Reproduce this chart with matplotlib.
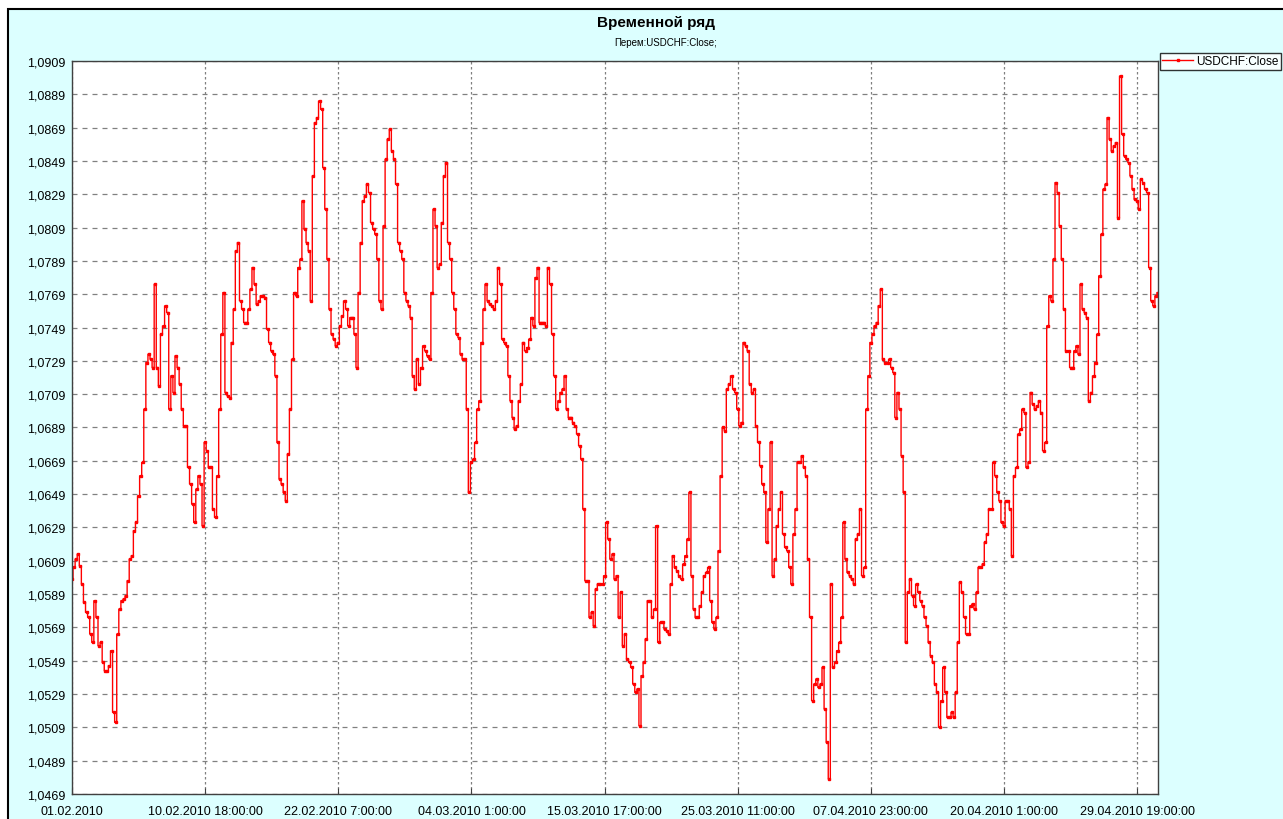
import numpy as np
import matplotlib
matplotlib.use("Agg")
import matplotlib.pyplot as plt
from matplotlib.patches import Rectangle

BG = "#DCFFFF"
LINE_RED = "#FF0000"

# USDCHF close at even steps (64 readings per tick interval)
close = [
    1.0598, 1.0605, 1.0610, 1.0613, 1.0606, 1.0595, 1.0584, 1.0578, 1.0575, 1.0565,
    1.0560, 1.0585, 1.0575, 1.0558, 1.0560, 1.0548, 1.0543, 1.0543, 1.0546, 1.0555,
    1.0518, 1.0512, 1.0565, 1.0580, 1.0585, 1.0586, 1.0588, 1.0597, 1.0610, 1.0612,
    1.0627, 1.0632, 1.0648, 1.0660, 1.0668, 1.0700, 1.0728, 1.0733, 1.0730, 1.0725,
    1.0775, 1.0725, 1.0714, 1.0745, 1.0750, 1.0762, 1.0758, 1.0700, 1.0720, 1.0710,
    1.0732, 1.0725, 1.0715, 1.0700, 1.0690, 1.0690, 1.0665, 1.0655, 1.0643, 1.0632,
    1.0652, 1.0660, 1.0655, 1.0630, 1.0680, 1.0675, 1.0665, 1.0665, 1.0640, 1.0635,
    1.0660, 1.0700, 1.0745, 1.0770, 1.0710, 1.0708, 1.0707, 1.0740, 1.0760, 1.0795,
    1.0800, 1.0765, 1.0760, 1.0752, 1.0752, 1.0760, 1.0772, 1.0785, 1.0775, 1.0763,
    1.0765, 1.0768, 1.0768, 1.0767, 1.0748, 1.0740, 1.0735, 1.0733, 1.0720, 1.0680,
    1.0658, 1.0655, 1.0650, 1.0645, 1.0673, 1.0700, 1.0730, 1.0770, 1.0768, 1.0785,
    1.0790, 1.0825, 1.0808, 1.0800, 1.0795, 1.0765, 1.0840, 1.0872, 1.0875, 1.0885,
    1.0880, 1.0845, 1.0820, 1.0790, 1.0760, 1.0745, 1.0742, 1.0738, 1.0740, 1.0750,
    1.0756, 1.0765, 1.0760, 1.0750, 1.0755, 1.0755, 1.0745, 1.0725, 1.0770, 1.0800,
    1.0825, 1.0828, 1.0835, 1.0830, 1.0812, 1.0808, 1.0805, 1.0790, 1.0765, 1.0760,
    1.0810, 1.0850, 1.0862, 1.0868, 1.0855, 1.0850, 1.0835, 1.0800, 1.0795, 1.0790,
    1.0770, 1.0765, 1.0762, 1.0755, 1.0720, 1.0712, 1.0730, 1.0715, 1.0725, 1.0738,
    1.0735, 1.0732, 1.0730, 1.0770, 1.0820, 1.0810, 1.0785, 1.0787, 1.0812, 1.0840,
    1.0848, 1.0800, 1.0790, 1.0770, 1.0760, 1.0745, 1.0743, 1.0733, 1.0730, 1.0730,
    1.0700, 1.0650, 1.0668, 1.0670, 1.0680, 1.0700, 1.0705, 1.0740, 1.0760, 1.0775,
    1.0765, 1.0763, 1.0762, 1.0760, 1.0765, 1.0785, 1.0775, 1.0742, 1.0740, 1.0738,
    1.0720, 1.0705, 1.0695, 1.0688, 1.0690, 1.0705, 1.0715, 1.0740, 1.0735, 1.0737,
    1.0742, 1.0755, 1.0750, 1.0779, 1.0785, 1.0752, 1.0752, 1.0752, 1.0750, 1.0785,
    1.0775, 1.0745, 1.0720, 1.0700, 1.0705, 1.0710, 1.0712, 1.0720, 1.0700, 1.0695,
    1.0695, 1.0692, 1.0690, 1.0685, 1.0678, 1.0670, 1.0640, 1.0597, 1.0597, 1.0575,
    1.0578, 1.0570, 1.0592, 1.0595, 1.0595, 1.0595, 1.0600, 1.0632, 1.0622, 1.0610,
    1.0613, 1.0598, 1.0600, 1.0575, 1.0590, 1.0558, 1.0565, 1.0550, 1.0548, 1.0545,
    1.0535, 1.0530, 1.0532, 1.0510, 1.0540, 1.0548, 1.0562, 1.0585, 1.0585, 1.0575,
    1.0580, 1.0630, 1.0560, 1.0572, 1.0572, 1.0568, 1.0567, 1.0565, 1.0595, 1.0612,
    1.0605, 1.0603, 1.0600, 1.0598, 1.0607, 1.0612, 1.0622, 1.0650, 1.0600, 1.0580,
    1.0575, 1.0575, 1.0582, 1.0590, 1.0600, 1.0602, 1.0605, 1.0585, 1.0572, 1.0568,
    1.0575, 1.0615, 1.0660, 1.0689, 1.0687, 1.0712, 1.0715, 1.0720, 1.0712, 1.0710,
    1.0700, 1.0690, 1.0692, 1.0740, 1.0738, 1.0735, 1.0715, 1.0710, 1.0712, 1.0690,
    1.0680, 1.0666, 1.0655, 1.0650, 1.0620, 1.0640, 1.0680, 1.0600, 1.0610, 1.0630,
    1.0640, 1.0650, 1.0625, 1.0617, 1.0615, 1.0605, 1.0595, 1.0625, 1.0640, 1.0668,
    1.0668, 1.0672, 1.0665, 1.0660, 1.0610, 1.0575, 1.0525, 1.0535, 1.0538, 1.0533,
    1.0535, 1.0545, 1.0520, 1.0500, 1.0478, 1.0595, 1.0545, 1.0548, 1.0555, 1.0560,
    1.0575, 1.0632, 1.0610, 1.0602, 1.0600, 1.0598, 1.0595, 1.0622, 1.0625, 1.0640,
    1.0600, 1.0605, 1.0700, 1.0720, 1.0740, 1.0745, 1.0750, 1.0752, 1.0762, 1.0772,
    1.0730, 1.0728, 1.0728, 1.0730, 1.0725, 1.0722, 1.0695, 1.0710, 1.0700, 1.0672,
    1.0650, 1.0560, 1.0590, 1.0598, 1.0588, 1.0582, 1.0595, 1.0590, 1.0585, 1.0582,
    1.0575, 1.0570, 1.0560, 1.0552, 1.0548, 1.0535, 1.0530, 1.0509, 1.0525, 1.0545,
    1.0530, 1.0515, 1.0515, 1.0518, 1.0515, 1.0530, 1.0560, 1.0596, 1.0590, 1.0575,
    1.0565, 1.0565, 1.0582, 1.0583, 1.0580, 1.0590, 1.0605, 1.0605, 1.0607, 1.0620,
    1.0625, 1.0640, 1.0640, 1.0668, 1.0660, 1.0650, 1.0645, 1.0632, 1.0630, 1.0645,
    1.0645, 1.0640, 1.0612, 1.0660, 1.0665, 1.0685, 1.0688, 1.0700, 1.0698, 1.0665,
    1.0668, 1.0710, 1.0703, 1.0700, 1.0702, 1.0705, 1.0698, 1.0675, 1.0680, 1.0750,
    1.0768, 1.0765, 1.0790, 1.0836, 1.0830, 1.0810, 1.0790, 1.0760, 1.0735, 1.0735,
    1.0725, 1.0725, 1.0735, 1.0738, 1.0733, 1.0775, 1.0760, 1.0758, 1.0755, 1.0705,
    1.0710, 1.0720, 1.0728, 1.0745, 1.0780, 1.0805, 1.0832, 1.0835, 1.0875, 1.0862,
    1.0855, 1.0858, 1.0860, 1.0815, 1.0900, 1.0865, 1.0852, 1.0850, 1.0848, 1.0840,
    1.0832, 1.0826, 1.0825, 1.0820, 1.0838, 1.0836, 1.0832, 1.0830, 1.0785, 1.0765,
    1.0762, 1.0768, 1.0770,
]

date_labels = [
    "01.02.2010", "10.02.2010 18:00:00", "22.02.2010 7:00:00",
    "04.03.2010 1:00:00", "15.03.2010 17:00:00", "25.03.2010 11:00:00",
    "07.04.2010 23:00:00", "20.04.2010 1:00:00", "29.04.2010 19:00:00",
]
samples_per_tick = 64

y_min, y_max, y_step = 1.0469, 1.0909, 0.002

plt.rcParams["font.family"] = ["Liberation Sans", "DejaVu Sans"]

fig = plt.figure(figsize=(12.83, 8.2), dpi=100, facecolor="white")
fig.patches.append(Rectangle((8 / 1283, -0.1), 1.2, 1.1 - 10 / 820,
                             transform=fig.transFigure, facecolor=BG,
                             edgecolor="black", linewidth=1.5, zorder=-1))

ax = fig.add_axes([72 / 1283, 1 - 795 / 820, (1158 - 72) / 1283, (795 - 62) / 820])
ax.set_facecolor("white")

x = np.arange(len(close))
ax.plot(x, close, color=LINE_RED, linewidth=1.0, drawstyle="steps-mid",
        marker="s", markersize=1.5, label="USDCHF:Close")

ax.set_xlim(0, len(close) - 1)
ax.set_ylim(y_min, y_max)

ticks_x = np.arange(len(date_labels)) * samples_per_tick
ax.set_xticks(ticks_x, date_labels, fontsize=9)
yt = np.arange(y_min, y_max + y_step / 2, y_step)
ax.set_yticks(yt, [f"{v:.4f}".replace(".", ",") for v in yt], fontsize=9)

ax.grid(axis="y", color="#808080", linestyle=(0, (4, 4)), linewidth=0.9)
ax.grid(axis="x", color="#808080", linestyle=(0, (2, 2)), linewidth=0.9)
ax.tick_params(axis="y", length=0, pad=5)
ax.tick_params(axis="x", length=4, direction="in", pad=8, color="#404040")
for s in ax.spines.values():
    s.set_color("#404040")
    s.set_linewidth(1.0)

fig.text(656 / 1283, 1 - 23 / 820, "Временной ряд", ha="center", va="center",
         fontsize=11, fontweight="bold")
fig.text(666 / 1283, 1 - 43 / 820, "Перем:USDCHF:Close;", ha="center", va="center",
         fontsize=7)

leg = fig.legend(loc="upper left", bbox_to_anchor=(1160 / 1283, 1 - 54 / 820),
                 fontsize=8.5, frameon=True, fancybox=False, borderpad=0.2,
                 handlelength=2.6, handletextpad=0.3, borderaxespad=0)
leg.get_frame().set_edgecolor("black")
leg.get_frame().set_linewidth(1.0)

fig.savefig("out.png", dpi=100, facecolor=fig.get_facecolor())
plt.close(fig)
